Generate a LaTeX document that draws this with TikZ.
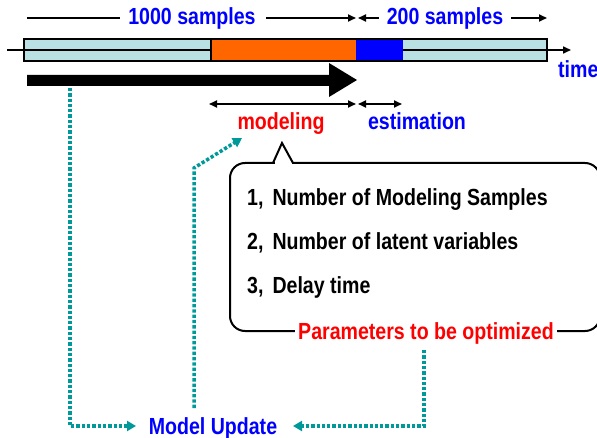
\documentclass[tikz,border=0pt]{standalone}
\usepackage{fontspec}
\newfontfamily\nar[FakeStretch=0.84]{Liberation Sans}
\usetikzlibrary{arrows.meta}
\definecolor{tealc}{RGB}{0,153,153}
\definecolor{barcyan}{RGB}{185,224,226}
\definecolor{orng}{RGB}{255,102,0}
\definecolor{bl}{RGB}{0,0,255}
\definecolor{rd}{RGB}{255,0,0}
\begin{document}
\begin{tikzpicture}[x=1pt,y=-1pt,
  lbl/.style={font=\nar\bfseries\fontsize{23.3}{28}\selectfont, inner sep=0pt},
  thinline/.style={line width=1.8pt},
  blk/.style={line width=1.8pt,-{Triangle[length=8pt,width=7pt]}},
  blk2/.style={line width=1.8pt,{Triangle[length=8pt,width=7pt]}-{Triangle[length=8pt,width=7pt]}},
  dotc/.style={tealc, line width=3.5pt, dash pattern=on 3.3pt off 2pt, -{Triangle[length=9pt,width=10pt]}}]
\useasboundingbox (0,0) rectangle (597,438);

% labels
\node[lbl, text=bl, anchor=base] (s1000) at (192,25) {1000 samples};
\node[lbl, text=bl, anchor=base] (s200) at (445,25) {200 samples};
\node[lbl, text=bl, anchor=base west] (time) at (558,78) {time};
\node[lbl, text=rd, anchor=base] (modeling) at (281,130) {modeling};
\node[lbl, text=bl, anchor=base] (estim) at (417,130) {estimation};

% top span arrows
\coordinate (t1) at (27,18);
\coordinate (t2) at (120,18);
\coordinate (t3) at (266,18);
\coordinate (t4) at (356,18);
\coordinate (t5) at (358,18);
\coordinate (t6) at (379,18);
\coordinate (t7) at (511,18);
\coordinate (t8) at (547,18);
\draw[thinline] (t1) -- (t2);
\draw[blk] (t3) -- (t4);
\draw[blk] (t6) -- (t5);
\draw[blk] (t7) -- (t8);

% time bar
\fill[barcyan] (24,39) rectangle (547,61);
\coordinate (ax0) at (7,50);
\coordinate (ax1) at (571,50);
\draw[line width=1.6pt,-{Triangle[length=8pt,width=7pt]}] (ax0) -- (ax1);
\fill[orng] (211,39) rectangle (356,61);
\fill[bl] (356,39) rectangle (403,61);
\draw[line width=1.4pt] (24,39) rectangle (547,61);
\draw[line width=1.4pt] (211,39) -- (211,61);

% big black arrow
\fill[black] (27,75) -- (329,75) -- (329,63) -- (357,80) -- (329,97) -- (329,86) -- (27,86) -- cycle;

% modeling / estimation arrows
\coordinate (m1) at (209,104);
\coordinate (m2) at (356,104);
\coordinate (m3) at (358,104);
\coordinate (m4) at (402,104);
\draw[blk2] (m1) -- (m2);
\draw[blk2] (m3) -- (m4);

% callout
\draw[line width=2pt, rounded corners=15pt] (230,163) rectangle (600,331);
\fill[white] (274.5,160) rectangle (291.5,166);
\draw[line width=2pt, line join=miter] (273,163) -- (282,143) -- (293,163);

\node[lbl, anchor=base west] (p1) at (247,206) {1,\hspace{9pt}Number of Modeling Samples};
\node[lbl, anchor=base west] (p2) at (247,250) {2,\hspace{9pt}Number of latent variables};
\node[lbl, anchor=base west] (p3) at (247,294) {3,\hspace{9pt}Delay time};
\node[lbl, text=rd, fill=white, inner xsep=3pt, anchor=base] (params) at (426,339) {Parameters to be optimized};

\node[lbl, text=bl, anchor=base] (mu) at (213,434) {Model Update};

% dotted connectors
\coordinate (d1a) at (70,88);
\coordinate (d1c) at (136,426);
\draw[dotc] (d1a) |- (d1c);
\coordinate (d2a) at (194,408);
\coordinate (d2b) at (194,168);
\coordinate (d2c) at (242,138);
\draw[dotc] (d2a) -- (d2b) -- (d2c);
\coordinate (d3a) at (424,350);
\coordinate (d3c) at (293,426);
\draw[dotc] (d3a) |- (d3c);
\end{tikzpicture}
\end{document}
